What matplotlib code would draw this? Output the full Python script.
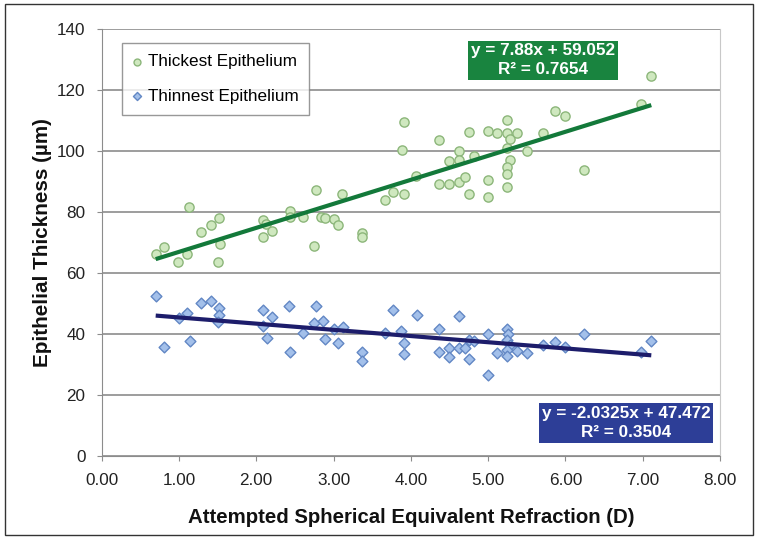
import numpy as np
import matplotlib
matplotlib.use("Agg")
import matplotlib.pyplot as plt
from matplotlib.patches import Rectangle

plt.rcParams['font.family'] = ['Liberation Sans', 'DejaVu Sans']

# thickest epithelium (circles)
thick_x = [0.70, 0.81, 0.99, 1.11, 1.13, 1.29, 1.41, 1.52, 1.53, 1.50,
           2.09, 2.13, 2.09, 2.20, 2.44, 2.44, 2.61, 2.75, 2.77, 2.84,
           2.89, 3.00, 3.06, 3.11, 3.37, 3.37, 3.67, 3.77, 3.91, 3.88,
           3.91, 4.07, 4.37, 4.37, 4.49, 4.49, 4.62, 4.62, 4.62, 4.70,
           4.75, 4.75, 4.82, 5.00, 5.00, 5.00, 5.12, 5.24, 5.24, 5.28,
           5.24, 5.28, 5.24, 5.24, 5.24, 5.37, 5.50, 5.71, 5.87, 6.00,
           6.24, 6.98, 7.11]
thick_y = [66.1, 68.5, 63.7, 66.2, 81.6, 73.3, 75.6, 78.1, 69.5, 63.5,
           77.5, 76.0, 71.9, 73.7, 80.3, 78.4, 78.4, 69.0, 87.1, 78.5,
           77.9, 77.6, 75.8, 85.9, 73.0, 71.9, 83.9, 86.7, 109.6, 100.3,
           85.9, 91.9, 103.5, 89.2, 96.8, 89.2, 100.1, 97.0, 89.7, 91.4,
           106.2, 85.9, 98.4, 106.6, 90.5, 84.8, 106.0, 110.1, 106.0, 103.9,
           100.9, 97.0, 94.9, 92.4, 88.1, 106.0, 100.0, 106.0, 113.0, 111.5,
           93.8, 115.6, 124.6]

# thinnest epithelium (diamonds)
thin_x = [0.70, 0.81, 1.00, 1.11, 1.14, 1.29, 1.41, 1.52, 1.52, 1.50,
          2.09, 2.09, 2.14, 2.20, 2.43, 2.44, 2.60, 2.77, 2.75, 2.86,
          2.89, 3.00, 3.06, 3.12, 3.37, 3.37, 3.67, 3.77, 3.87, 3.91,
          3.91, 4.08, 4.37, 4.37, 4.49, 4.49, 4.62, 4.62, 4.70, 4.75,
          4.75, 4.82, 5.00, 5.00, 5.12, 5.24, 5.26, 5.24, 5.28, 5.24,
          5.24, 5.37, 5.50, 5.71, 5.87, 6.00, 6.24, 6.98, 7.11]
thin_y = [52.6, 35.6, 45.1, 46.8, 37.6, 50.1, 50.7, 48.6, 46.2, 43.8,
          47.9, 42.6, 38.6, 45.7, 49.1, 34.1, 40.2, 49.1, 43.7, 44.4,
          38.3, 41.5, 37.2, 42.4, 34.1, 31.3, 40.4, 47.9, 41.0, 36.9,
          33.5, 46.4, 41.8, 34.2, 35.5, 32.6, 46.0, 35.3, 35.5, 38.0,
          31.7, 37.7, 40.0, 26.6, 33.9, 41.6, 40.0, 38.0, 36.4, 34.8,
          32.8, 34.5, 33.7, 36.4, 37.5, 35.8, 40.1, 34.0, 37.8]

# trendline coefficients as printed on the chart
thick_fit = (7.88, 59.052, 0.7654)
thin_fit = (-2.0325, 47.472, 0.3504)

x_ticks = [0, 1, 2, 3, 4, 5, 6, 7, 8]
y_ticks = [0, 20, 40, 60, 80, 100, 120, 140]

green_fill, green_edge, green_line, green_box = '#cfe8bf', '#8cb67a', '#13793a', '#19843f'
blue_fill, blue_edge, blue_line, blue_box = '#a3c0ea', '#6287c4', '#1d1d6b', '#2d3e97'
grid_col = '#8c8c8c'

fig = plt.figure(figsize=(7.58, 5.39), dpi=100)
ax = fig.add_axes([0.134, 0.154, 0.816, 0.792])

ax.scatter(thick_x, thick_y, s=44, marker='o', facecolor=green_fill,
           edgecolor=green_edge, linewidth=1, zorder=3, label='Thickest Epithelium')
ax.scatter(thin_x, thin_y, s=30, marker='D', facecolor=blue_fill,
           edgecolor=blue_edge, linewidth=1, zorder=3, label='Thinnest Epithelium')

for xs, fit, col in [(thick_x, thick_fit, green_line), (thin_x, thin_fit, blue_line)]:
    xl = np.array([min(xs), max(xs)])
    ax.plot(xl, fit[0] * xl + fit[1], color=col, lw=3, zorder=4, solid_capstyle='butt')

ax.set_xlim(0, 8)
ax.set_ylim(0, 140)
ax.set_xticks(x_ticks)
ax.set_xticklabels([f'{v:.2f}' for v in x_ticks])
ax.set_yticks(y_ticks)
ax.yaxis.grid(True, color=grid_col, lw=1.2)
ax.set_axisbelow(True)
for s in ax.spines.values():
    s.set_color(grid_col)
ax.spines['right'].set_color('#c8c8c8')
ax.spines['top'].set_visible(False)
ax.tick_params(axis='both', colors=grid_col, labelcolor='#222222', labelsize=12.3,
               length=3.5, direction='out')
ax.tick_params(axis='x', pad=9)
ax.tick_params(axis='y', pad=8)

ax.set_xlabel('Attempted Spherical Equivalent Refraction (D)', fontsize=14.7,
              fontweight='bold', labelpad=14, color='#111111')
ax.set_ylabel('Epithelial Thickness (µm)', fontsize=14.9, fontweight='bold',
              labelpad=4, color='#111111')

leg = ax.legend(loc='upper left', bbox_to_anchor=(0.033, 0.967), borderaxespad=0,
                fontsize=12.3, frameon=True, fancybox=False, handlelength=0.4,
                handletextpad=0.45, labelspacing=1.15, borderpad=0.65, markerscale=0.75)
leg.get_frame().set_edgecolor('#7f7f7f')
leg.get_frame().set_linewidth(1)

ax.text(0.714, 0.927, f'y = {thick_fit[0]:.2f}x + {thick_fit[1]:.3f}\nR² = {thick_fit[2]:.4f}',
        transform=ax.transAxes, ha='center', va='center', multialignment='center',
        color='white', fontsize=12.3, fontweight='bold', linespacing=1.3, zorder=5,
        bbox=dict(boxstyle='square,pad=0.17', fc=green_box, ec='none'))
ax.text(0.848, 0.077, f'y = {thin_fit[0]:.4f}x + {thin_fit[1]:.3f}\nR² = {thin_fit[2]:.4f}',
        transform=ax.transAxes, ha='center', va='center', multialignment='center',
        color='white', fontsize=12.3, fontweight='bold', linespacing=1.3, zorder=5,
        bbox=dict(boxstyle='square,pad=0.17', fc=blue_box, ec='none'))

fig.patches.append(Rectangle((0.006, 0.008), 0.988, 0.984, transform=fig.transFigure,
                             fill=False, edgecolor='#333333', lw=1))

fig.savefig('out.png', dpi=100)
